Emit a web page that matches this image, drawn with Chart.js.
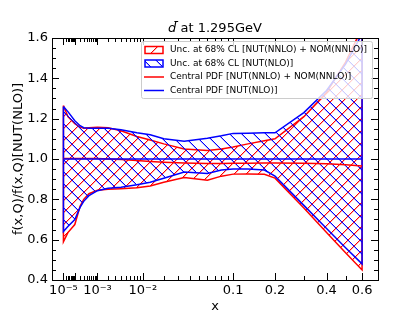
<!DOCTYPE html>
<html>
<head>
<meta charset="utf-8">
<script src="https://cdn.jsdelivr.net/npm/chart.js@4.4.0/dist/chart.umd.min.js"></script>
<style>
  html, body { margin: 0; padding: 0; background: #fff; }
</style>
</head>
<body>
<canvas id="pdfRatio" width="420" height="315"></canvas>
<script>
// x grid of the PDF ratio and values
const xVals = [1e-5, 3e-5, 1e-4, 2e-4, 3e-4, 5e-4, 1e-3, 2e-3, 4e-3, 8e-3, 0.013, 0.02, 0.035, 0.06, 0.08, 0.1, 0.13, 0.17, 0.2, 0.3, 0.4, 0.5, 0.6];

// NUT(NNLO) + NOM(NNLO)
const nnloUp = [1.265, 1.21, 1.175, 1.158, 1.152, 1.155, 1.158, 1.155, 1.14, 1.112, 1.094, 1.075, 1.05, 1.042, 1.05, 1.06, 1.075, 1.09, 1.10, 1.21, 1.33, 1.48, 1.65];
const nnloLo = [0.59, 0.635, 0.675, 0.765, 0.80, 0.828, 0.845, 0.85, 0.853, 0.857, 0.866, 0.885, 0.908, 0.895, 0.915, 0.925, 0.926, 0.924, 0.905, 0.757, 0.635, 0.535, 0.45];
const nnloCen = [1.003, 1.003, 1.003, 1.003, 1.003, 1.003, 1.003, 1.0, 0.997, 0.992, 0.988, 0.984, 0.98, 0.978, 0.978, 0.979, 0.979, 0.98, 0.98, 0.979, 0.977, 0.972, 0.965];

// NUT(NLO)
const nutUp = [1.26, 1.235, 1.19, 1.165, 1.155, 1.152, 1.152, 1.152, 1.145, 1.13, 1.12, 1.10, 1.088, 1.103, 1.115, 1.127, 1.128, 1.13, 1.13, 1.23, 1.34, 1.47, 1.62];
const nutLo = [0.64, 0.665, 0.70, 0.76, 0.79, 0.818, 0.843, 0.855, 0.86, 0.872, 0.885, 0.905, 0.935, 0.928, 0.945, 0.95, 0.95, 0.945, 0.915, 0.77, 0.655, 0.56, 0.48];
const nutCen = [1, 1, 1, 1, 1, 1, 1, 1, 1, 1, 1, 1, 1, 1, 1, 1, 1, 1, 1, 1, 1, 1, 1];

const xMajor = [1e-5, 1e-4, 1e-3, 1e-2, 0.1, 0.2, 0.4, 0.6];
const xTickLabels = ['10⁻⁵', '', '10⁻³', '10⁻²', '0.1', '0.2', '0.4', '0.6'];
const xMinor = [];
for (let e = -5; e <= -2; e++) for (let k = 2; k <= 9; k++) xMinor.push(k * Math.pow(10, e));
xMinor.push(0.3, 0.5);
const yMajor = [0.4, 0.6, 0.8, 1.0, 1.2, 1.4, 1.6];

// the x axis is x^0.3
const P = 0.3;
const tx = x => Math.pow(x, P);

// hatch tile, drawn pixel by pixel so the lines stay crisp
function hatch(color, dir) {
  const s = 12;
  const c = document.createElement('canvas');
  c.width = s; c.height = s;
  const g = c.getContext('2d');
  g.fillStyle = color;
  for (let i = 0; i < s; i++) {
    const j = dir === '/' ? s - 1 - i : i;
    g.globalAlpha = 1;
    g.fillRect(i, j, 1, 1);
    g.globalAlpha = 0.3;
    g.fillRect(i, (j + 1) % s, 1, 1);
  }
  return g.createPattern(c, 'repeat');
}

function band(lo, hi) {
  const pts = xVals.map((x, i) => ({ x: tx(x), y: hi[i] }));
  for (let i = xVals.length - 1; i >= 0; i--) pts.push({ x: tx(xVals[i]), y: lo[i] });
  pts.push(pts[0]);
  return pts;
}
const curve = vals => xVals.map((x, i) => ({ x: tx(x), y: vals[i] }));

const redHatch = hatch('#ff0000', '/');
const blueHatch = hatch('#0000ff', '\\');

// inward ticks on all four sides + frame
const frameTicks = {
  id: 'frameTicks',
  afterDatasetsDraw(chart) {
    const { ctx, chartArea: a, scales: { x, y } } = chart;
    ctx.save();
    ctx.strokeStyle = '#000';
    ctx.lineWidth = 1;
    ctx.beginPath();
    const vt = (v, len) => {
      const px = Math.round(x.getPixelForValue(tx(v))) + 0.5;
      ctx.moveTo(px, a.bottom); ctx.lineTo(px, a.bottom - len);
      ctx.moveTo(px, a.top); ctx.lineTo(px, a.top + len);
    };
    const ht = (v, len) => {
      const py = Math.round(y.getPixelForValue(v)) + 0.5;
      ctx.moveTo(a.left, py); ctx.lineTo(a.left + len, py);
      ctx.moveTo(a.right, py); ctx.lineTo(a.right - len, py);
    };
    xMajor.forEach(v => vt(v, 7));
    xMinor.forEach(v => vt(v, 4));
    yMajor.forEach(v => ht(v, 7));
    for (let v = 0.45; v < 1.6; v += 0.05) ht(v, 4);
    ctx.stroke();
    ctx.strokeRect(Math.round(a.left) + 0.5, Math.round(a.top) + 0.5,
      Math.round(a.right - a.left), Math.round(a.bottom - a.top));
    ctx.restore();
  }
};

// title (italic d-bar) and legend box inside the plot, upper right
const titleAndLegend = {
  id: 'titleAndLegend',
  afterDraw(chart) {
    const { ctx, chartArea: a } = chart;
    const ds = chart.data.datasets;
    ctx.save();
    const cx = (a.left + a.right) / 2;
    ctx.font = 'italic 13px "DejaVu Sans"';
    const w1 = ctx.measureText('d̄').width;
    ctx.font = '13px "DejaVu Sans"';
    const w2 = ctx.measureText(' at 1.295GeV').width;
    ctx.fillStyle = '#000';
    ctx.textBaseline = 'alphabetic';
    ctx.textAlign = 'left';
    ctx.font = 'italic 13px "DejaVu Sans"';
    ctx.fillText('d̄', cx - (w1 + w2) / 2, 32);
    ctx.font = '13px "DejaVu Sans"';
    ctx.fillText(' at 1.295GeV', cx - (w1 + w2) / 2 + w1, 32);

    ctx.fillStyle = 'rgba(255,255,255,0.8)';
    ctx.strokeStyle = '#cccccc';
    ctx.lineWidth = 1;
    ctx.beginPath();
    ctx.roundRect(141.5, 41.5, 231, 57, 2);
    ctx.fill();
    ctx.stroke();
    const rows = [50, 63.5, 77, 90.5];
    ctx.font = '9px "DejaVu Sans"';
    ctx.textBaseline = 'middle';
    ds.forEach((d, i) => {
      const yy = rows[i];
      if (d.fill) {
        ctx.fillStyle = d.backgroundColor;
        ctx.fillRect(145, yy - 3.5, 18, 7);
        ctx.strokeStyle = d.borderColor;
        ctx.lineWidth = 1.5;
        ctx.strokeRect(145, yy - 3.5, 18, 7);
      } else {
        ctx.strokeStyle = d.borderColor;
        ctx.lineWidth = d.borderWidth;
        ctx.beginPath();
        ctx.moveTo(144, yy); ctx.lineTo(164, yy);
        ctx.stroke();
      }
      ctx.fillStyle = '#000';
      ctx.fillText(d.label, 170, yy);
    });
    ctx.restore();
  }
};

Chart.defaults.font.family = '"DejaVu Sans"';
Chart.defaults.color = '#000';

new Chart(document.getElementById('pdfRatio').getContext('2d'), {
  type: 'scatter',
  data: {
    datasets: [{
      label: 'Unc. at 68% CL [NUT(NNLO) + NOM(NNLO)]',
      data: band(nnloLo, nnloUp),
      borderColor: '#ff0000',
      backgroundColor: redHatch,
      borderWidth: 1.5,
      fill: 'shape',
      order: 4
    }, {
      label: 'Unc. at 68% CL [NUT(NLO)]',
      data: band(nutLo, nutUp),
      borderColor: '#0000ff',
      backgroundColor: blueHatch,
      borderWidth: 1.5,
      fill: 'shape',
      order: 3
    }, {
      label: 'Central PDF [NUT(NNLO) + NOM(NNLO)]',
      data: curve(nnloCen),
      borderColor: '#ff0000',
      borderWidth: 1.5,
      fill: false,
      order: 2
    }, {
      label: 'Central PDF [NUT(NLO)]',
      data: curve(nutCen),
      borderColor: '#0000ff',
      borderWidth: 1.5,
      fill: false,
      order: 1
    }]
  },
  options: {
    responsive: false,
    animation: false,
    events: [],
    showLine: true,
    elements: { point: { radius: 0 }, line: { tension: 0 } },
    layout: { padding: { top: 38, right: 42, left: 0, bottom: 0 } },
    plugins: {
      legend: { display: false },
      tooltip: { enabled: false },
      title: { display: false }
    },
    scales: {
      x: {
        type: 'linear',
        min: 0,
        max: 0.902,
        afterBuildTicks: s => { s.ticks = xMajor.map(v => ({ value: tx(v) })); },
        afterFit: s => { s.height = 35; },
        ticks: {
          autoSkip: false,
          maxRotation: 0,
          padding: 3,
          font: { size: 13 },
          callback: (v, i) => xTickLabels[i]
        },
        grid: { display: false, drawTicks: false },
        border: { display: false },
        title: { display: true, text: 'x', font: { size: 13 }, padding: { top: 0, bottom: 0.7 } }
      },
      y: {
        min: 0.4,
        max: 1.6,
        afterBuildTicks: s => { s.ticks = yMajor.map(v => ({ value: v })); },
        afterFit: s => { s.width = 52; },
        ticks: {
          padding: 4,
          font: { size: 13 },
          callback: v => v.toFixed(1)
        },
        grid: { display: false, drawTicks: false },
        border: { display: false },
        title: { display: true, text: 'f(x,Q)/f(x,Q)[NUT(NLO)]', font: { size: 13 }, padding: { top: 11.2, bottom: 0 } }
      }
    }
  },
  plugins: [frameTicks, titleAndLegend]
});
</script>
</body>
</html>
